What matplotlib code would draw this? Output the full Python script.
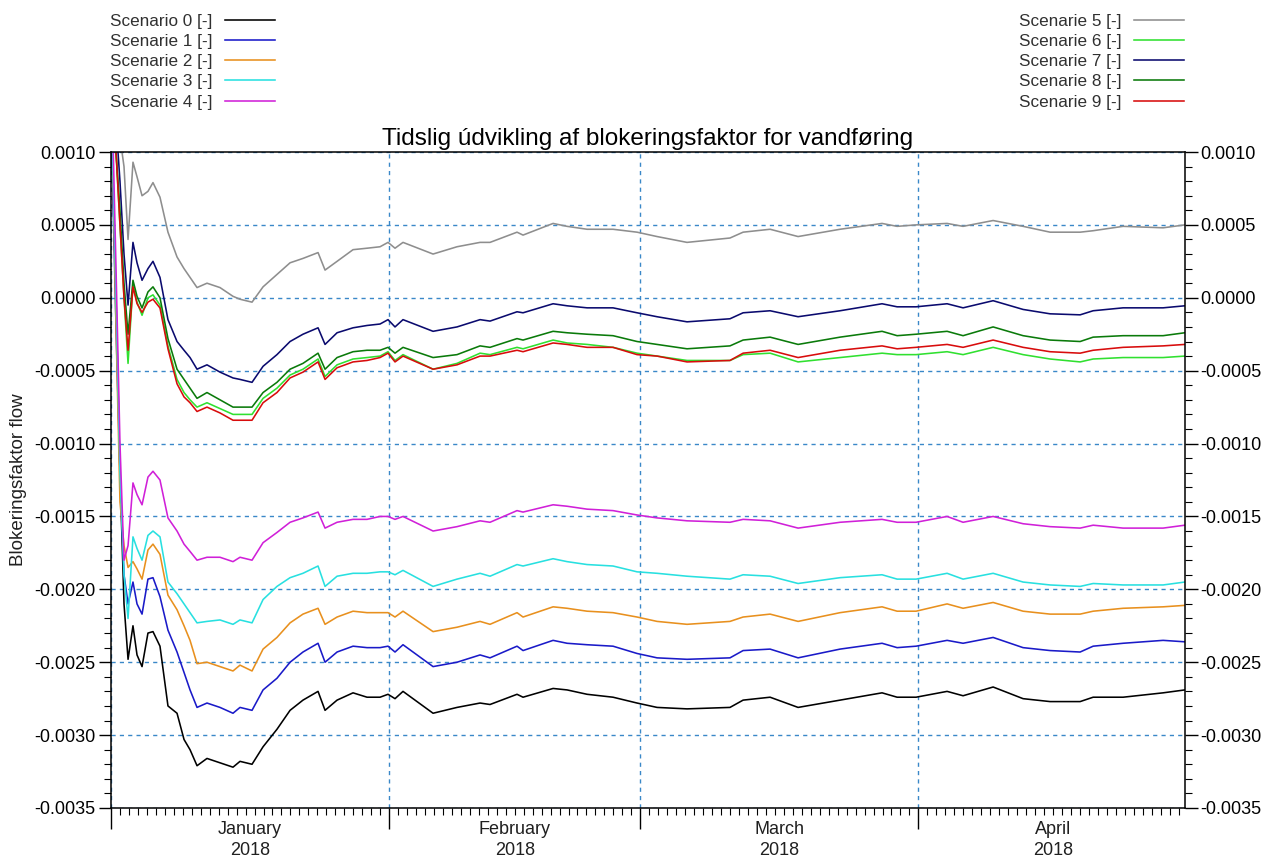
import datetime as dt
import numpy as np
import matplotlib
matplotlib.use("Agg")
import matplotlib.pyplot as plt
import matplotlib.dates as mdates
from matplotlib.ticker import MultipleLocator, FuncFormatter, NullFormatter

plt.rcParams['font.family'] = ['Liberation Sans', 'DejaVu Sans']
plt.rcParams['axes.unicode_minus'] = False

# ---------------- data ----------------
START = dt.datetime(2018, 1, 1)
# sample positions, days after 2018-01-01 00:00
days = [0.1, 0.56, 1.0, 1.45, 1.9, 2.45, 2.9, 3.46, 4.12, 4.68, 5.46, 6.35, 7.36, 8.14,
        8.81, 9.59, 10.7, 12.15, 13.6, 14.38, 15.72, 16.95, 18.5, 19.96, 21.4, 23.08,
        23.86, 25.2, 26.98, 28.54, 29.99, 30.88, 31.66, 32.55, 35.9, 38.57, 41.14, 42.25,
        45.26, 45.93, 49.28, 50.84, 53.07, 55.96, 58.64, 60.87, 64.21, 69.0, 70.46, 73.47,
        76.59, 81.27, 85.95, 87.63, 89.74, 93.2, 94.98, 98.33, 101.67, 104.68, 108.03,
        109.48, 112.82, 117.28, 119.7]

# series values in units of 1e-4
s0 = [10, 0, -12, -21, -24.8, -22.5, -24.5, -25.3, -23.0, -22.9, -23.9, -28.0, -28.5, -30.3,
      -31.0, -32.1, -31.6, -31.9, -32.2, -31.8, -32.0, -30.8, -29.6, -28.3, -27.6, -27.0,
      -28.3, -27.6, -27.1, -27.4, -27.4, -27.2, -27.5, -27.0, -28.5, -28.1, -27.8, -27.9,
      -27.2, -27.4, -26.8, -26.9, -27.2, -27.4, -27.8, -28.1, -28.2, -28.1, -27.6, -27.4,
      -28.1, -27.6, -27.1, -27.4, -27.4, -27.0, -27.3, -26.7, -27.5, -27.7, -27.7, -27.4,
      -27.4, -27.1, -26.9]
s1 = [10, -2, -12, -19, -21, -19.5, -21.0, -21.7, -19.3, -19.2, -20.5, -22.8, -24.3, -25.7,
      -26.9, -28.1, -27.8, -28.1, -28.5, -28.1, -28.3, -26.9, -26.1, -25.0, -24.3, -23.7,
      -25.0, -24.3, -23.9, -24.0, -24.0, -23.9, -24.3, -23.8, -25.3, -25.0, -24.5, -24.7,
      -23.9, -24.2, -23.5, -23.7, -23.8, -23.9, -24.4, -24.7, -24.8, -24.7, -24.2, -24.1,
      -24.7, -24.1, -23.7, -24.0, -23.9, -23.5, -23.7, -23.3, -24.0, -24.2, -24.3, -23.9,
      -23.7, -23.5, -23.6]
s2 = [12, -2, -14, -17, -18.5, -18.1, -18.6, -19.3, -17.3, -16.9, -17.6, -20.4, -21.4, -22.5,
      -23.5, -25.1, -25.0, -25.3, -25.6, -25.2, -25.6, -24.1, -23.3, -22.3, -21.7, -21.3,
      -22.4, -21.9, -21.5, -21.6, -21.6, -21.6, -21.9, -21.5, -22.9, -22.6, -22.2, -22.4,
      -21.6, -21.9, -21.2, -21.3, -21.5, -21.6, -21.9, -22.2, -22.4, -22.2, -21.9, -21.7,
      -22.2, -21.6, -21.2, -21.5, -21.5, -21.0, -21.3, -20.9, -21.5, -21.7, -21.7, -21.5,
      -21.3, -21.2, -21.1]
s3 = [12, 0, -12, -19, -22, -16.4, -17.2, -18.0, -16.3, -16.0, -16.4, -19.5, -20.3, -21.0,
      -21.6, -22.3, -22.2, -22.1, -22.4, -22.1, -22.3, -20.7, -19.8, -19.2, -18.9, -18.4,
      -19.8, -19.1, -18.9, -18.9, -18.8, -18.8, -19.0, -18.7, -19.8, -19.3, -18.9, -19.1,
      -18.3, -18.4, -17.9, -18.1, -18.3, -18.4, -18.8, -18.9, -19.1, -19.3, -19.0, -19.1,
      -19.6, -19.2, -19.0, -19.3, -19.3, -18.9, -19.3, -18.9, -19.5, -19.7, -19.8, -19.6,
      -19.7, -19.7, -19.5]
s4 = [14, 2, -10, -18, -17, -12.7, -13.5, -14.2, -12.3, -11.9, -12.5, -15.1, -16.0, -16.9,
      -17.4, -18.0, -17.8, -17.8, -18.1, -17.8, -18.0, -16.8, -16.1, -15.4, -15.1, -14.7,
      -15.8, -15.4, -15.2, -15.2, -15.0, -15.0, -15.2, -15.0, -16.0, -15.7, -15.3, -15.4,
      -14.6, -14.7, -14.2, -14.3, -14.5, -14.6, -14.9, -15.1, -15.3, -15.4, -15.2, -15.3,
      -15.8, -15.4, -15.2, -15.4, -15.4, -15.0, -15.4, -15.0, -15.5, -15.7, -15.8, -15.6,
      -15.8, -15.8, -15.6]
s5 = [16, 14, 11, 9, 4, 9.3, 8.3, 7.0, 7.3, 7.9, 6.9, 4.5, 2.8, 2.0,
      1.4, 0.7, 1.0, 0.7, 0.1, -0.1, -0.3, 0.75, 1.6, 2.4, 2.7, 3.1,
      1.9, 2.5, 3.3, 3.4, 3.5, 3.8, 3.4, 3.8, 3.0, 3.5, 3.8, 3.8,
      4.5, 4.3, 5.1, 4.9, 4.7, 4.7, 4.5, 4.2, 3.8, 4.1, 4.5, 4.7,
      4.2, 4.7, 5.1, 4.9, 5.0, 5.1, 4.9, 5.3, 4.9, 4.5, 4.5, 4.6,
      4.9, 4.8, 5.0]
s6 = [15, 10, 5, 0, -4.5, 0.9, -0.3, -1.2, 0.0, 0.2, -0.5, -3.3, -5.6, -6.5,
      -7.0, -7.5, -7.2, -7.6, -8.0, -8.0, -8.0, -6.9, -6.2, -5.3, -4.9, -4.2,
      -5.4, -4.6, -4.2, -4.1, -4.0, -3.7, -4.3, -3.9, -4.9, -4.5, -3.8, -3.9,
      -3.4, -3.5, -2.9, -3.1, -3.2, -3.4, -3.8, -4.0, -4.3, -4.3, -3.9, -3.8,
      -4.4, -4.1, -3.8, -3.9, -3.9, -3.7, -3.9, -3.4, -3.9, -4.2, -4.4, -4.2,
      -4.1, -4.1, -4.0]
s7 = [16, 12, 8, 3, -0.5, 3.8, 2.4, 1.2, 2.0, 2.5, 1.4, -1.5, -3.0, -3.6,
      -4.1, -4.9, -4.6, -5.1, -5.5, -5.6, -5.8, -4.7, -3.9, -3.0, -2.5, -2.06,
      -3.2, -2.4, -2.06, -1.9, -1.8, -1.5, -2.0, -1.5, -2.3, -2.0, -1.5, -1.6,
      -0.96, -1.03, -0.41, -0.55, -0.69, -0.69, -1.03, -1.3, -1.65, -1.44, -1.03, -0.89,
      -1.3, -0.89, -0.41, -0.62, -0.62, -0.41, -0.69, -0.2, -0.8, -1.1, -1.17, -0.89,
      -0.69, -0.69, -0.55]
s8 = [15, 10, 6, 1, -2.5, 1.2, 0.1, -0.7, 0.4, 0.75, 0.0, -2.8, -4.9, -5.6,
      -6.2, -6.9, -6.5, -7.0, -7.5, -7.5, -7.5, -6.5, -5.8, -4.9, -4.5, -3.8,
      -4.9, -4.1, -3.7, -3.6, -3.6, -3.4, -3.8, -3.4, -4.1, -3.9, -3.3, -3.4,
      -2.8, -2.9, -2.3, -2.4, -2.5, -2.6, -3.0, -3.2, -3.5, -3.3, -2.9, -2.7,
      -3.2, -2.7, -2.3, -2.6, -2.5, -2.3, -2.6, -2.0, -2.6, -2.9, -3.0, -2.7,
      -2.6, -2.6, -2.4]
s9 = [15, 10, 5, 0, -3.6, 0.75, -0.4, -1.0, -0.3, -0.1, -0.7, -3.5, -5.9, -6.8,
      -7.2, -7.8, -7.5, -7.9, -8.4, -8.4, -8.4, -7.2, -6.5, -5.5, -5.1, -4.4,
      -5.6, -4.8, -4.4, -4.3, -4.1, -3.8, -4.4, -4.0, -4.9, -4.6, -4.0, -4.0,
      -3.6, -3.7, -3.1, -3.2, -3.4, -3.4, -3.9, -4.0, -4.4, -4.3, -3.8, -3.6,
      -4.1, -3.6, -3.3, -3.5, -3.4, -3.2, -3.4, -2.9, -3.4, -3.7, -3.8, -3.6,
      -3.4, -3.3, -3.2]

series = [s0, s1, s2, s3, s4, s5, s6, s7, s8, s9]
labels = ['Scenario 0 [-]', 'Scenarie 1 [-]', 'Scenarie 2 [-]', 'Scenarie 3 [-]',
          'Scenarie 4 [-]', 'Scenarie 5 [-]', 'Scenarie 6 [-]', 'Scenarie 7 [-]',
          'Scenarie 8 [-]', 'Scenarie 9 [-]']
colors = ['#000000', '#1a1ac8', '#e8901e', '#28e0e0', '#d020d8',
          '#8e8e8e', '#30e030', '#0a0a6e', '#0a7a0a', '#d80c0c']
months = ['January', 'February', 'March', 'April']
month_days = [31, 28, 31, 30]
year_label = '2018'
title = 'Tidslig údvikling af blokeringsfaktor for vandføring'
ylabel = 'Blokeringsfaktor flow'

# ---------------- figure ----------------
W, H = 1266, 861
fig = plt.figure(figsize=(W / 100, H / 100), dpi=100)
ax = fig.add_axes([111 / W, 1 - 808 / H, (1185 - 111) / W, (808 - 152) / H])

x0 = mdates.date2num(START)
xs = x0 + np.array(days)
lines = []
for vals, lab, col in zip(series, labels, colors):
    ln, = ax.plot(xs, np.array(vals) * 1e-4, color=col, lw=1.15, label=lab)
    lines.append(ln)

ax.set_xlim(x0, x0 + 119.72)
ax.set_ylim(-0.0035, 0.0010)

# axis ticks
ax.xaxis.set_major_locator(mdates.MonthLocator())
ax.xaxis.set_minor_locator(mdates.DayLocator())
ax.xaxis.set_major_formatter(NullFormatter())
ax.tick_params(axis='x', which='major', length=15, width=1, direction='out')
ax.tick_params(axis='x', which='minor', length=5, width=0.8, direction='out')

ax.yaxis.set_major_locator(MultipleLocator(0.0005))
ax.yaxis.set_minor_locator(MultipleLocator(0.0001))
ax.yaxis.set_major_formatter(FuncFormatter(lambda v, p: f'{v:.4f}'))
ax.tick_params(axis='y', which='both', left=True, right=True,
               labelleft=True, labelright=True, direction='out', labelsize=13, pad=2)
ax.tick_params(axis='y', which='major', length=9, width=1)
ax.tick_params(axis='y', which='minor', length=5, width=0.8)

for sp in ax.spines.values():
    sp.set_linewidth(1.1)

ax.grid(True, which='major', color='#3a88c8', linestyle=(0, (3, 3)), linewidth=1)

# month labels centred in each month
cum = 0
for name, nd in zip(months, month_days):
    ax.annotate(f'{name}\n{year_label}', xy=(x0 + cum + nd / 2, 0),
                xycoords=('data', 'axes fraction'), xytext=(0, -9.5),
                textcoords='offset points', ha='center', va='top',
                fontsize=13, linespacing=1.3, color='#202020')
    cum += nd

ax.set_title(title, fontsize=17.5, pad=5)
ax.set_ylabel(ylabel, fontsize=13.5, color='#202020')
ax.yaxis.set_label_coords(-0.078, 0.5)

# legends
leg_kw = dict(frameon=False, fontsize=12.3, markerfirst=False, handlelength=2.9,
              handletextpad=0.75, labelspacing=0.3, borderpad=0, borderaxespad=0,
              labelcolor='#303030')
fig.legend(handles=lines[:5], loc='upper left',
           bbox_to_anchor=(110 / W, 1 - 14 / H), **leg_kw)
fig.legend(handles=lines[5:], loc='upper right',
           bbox_to_anchor=(1184 / W, 1 - 14 / H), **leg_kw)

fig.savefig('out.png', dpi=100)
